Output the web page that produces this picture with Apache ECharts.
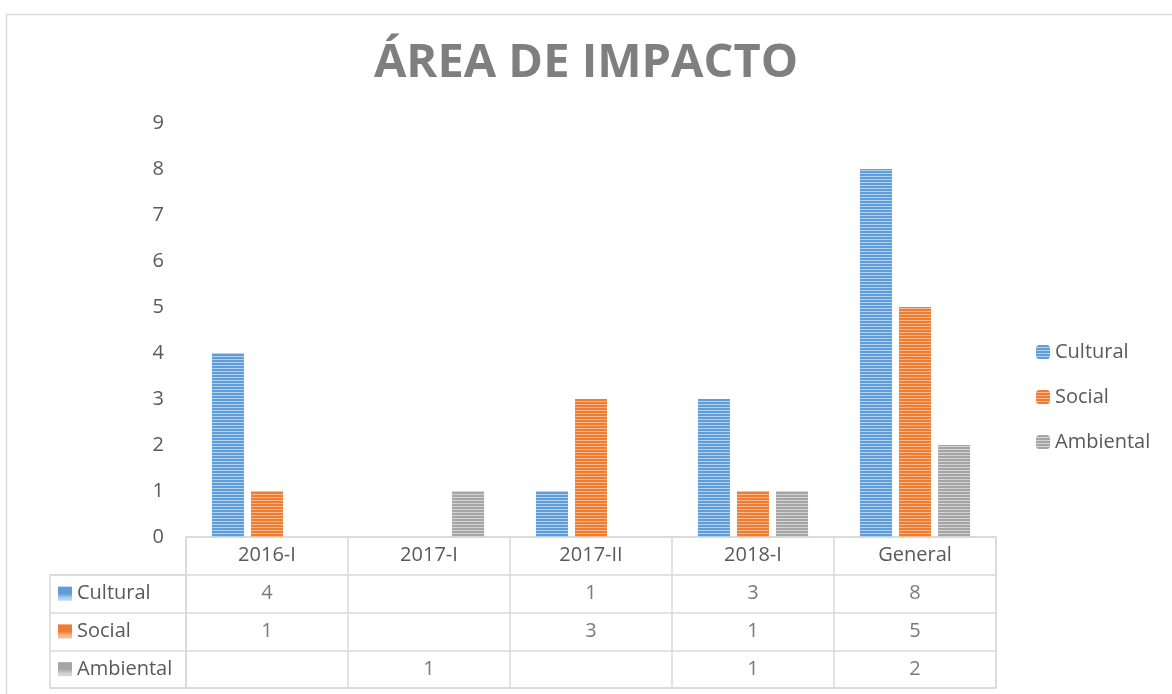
<!DOCTYPE html>
<html>
<head>
<meta charset="utf-8">
<script src="https://cdn.jsdelivr.net/npm/echarts@6/dist/echarts.min.js"></script>
<style>
  html, body { margin: 0; padding: 0; background: #ffffff; }
  #chart { width: 1172px; height: 694px; }
</style>
</head>
<body>
<div id="chart"></div>
<script>
const titleText = 'ÁREA DE IMPACTO';
const categories = ['2016-I', '2017-I', '2017-II', '2018-I', 'General'];
const seriesNames = ['Cultural', 'Social', 'Ambiental'];
const cultural = [4, null, 1, 3, 8];
const social = [1, null, 3, 1, 5];
const ambiental = [null, 1, null, 1, 2];
const yMin = 0, yMax = 9, yInterval = 1;

const valuesBySeries = [cultural, social, ambiental];
const palette = [
  { dark: '#5f9dd8', light: '#b5d1ee' },
  { dark: '#ed7d31', light: '#f6bb95' },
  { dark: '#a5a5a5', light: '#d4d4d4' }
];
const textColor = '#595959';
const lineColor = '#d9d9d9';
const FONT = '"Open Sans", "Liberation Sans", sans-serif';
const FS = 20;

function stripe(dark, light) {
  const c = document.createElement('canvas');
  c.width = 4; c.height = 3;
  const g = c.getContext('2d');
  g.fillStyle = dark; g.fillRect(0, 0, 4, 3);
  g.fillStyle = light; g.fillRect(0, 2, 4, 1);
  return c;
}
const patterns = palette.map(p => stripe(p.dark, p.light));

const chart = echarts.init(document.getElementById('chart'), null, { renderer: 'canvas' });

const tableRows = [''].concat(seriesNames);
const tableData = [];
valuesBySeries.forEach((arr, si) => {
  arr.forEach((v, ci) => {
    if (v !== null && v !== undefined) tableData.push([ci, seriesNames[si], v]);
  });
});

const rich = {};
seriesNames.forEach((n, i) => {
  rich['ic' + i] = { width: 14, height: 14, backgroundColor: { image: patterns[i] } };
});
rich.t = { fontSize: FS, color: textColor, fontFamily: FONT, padding: [0, 0, 0, 5] };

const barSeries = seriesNames.map((name, i) => ({
  name: name,
  type: 'bar',
  xAxisIndex: 0,
  yAxisIndex: 0,
  data: valuesBySeries[i],
  barWidth: 32,
  barGap: '22%',
  itemStyle: { color: { image: patterns[i], repeat: 'repeat' } }
}));

const option = {
  animation: false,
  backgroundColor: '#ffffff',
  textStyle: { fontFamily: FONT },
  title: {
    text: titleText,
    left: 'center',
    top: 35,
    textStyle: { fontSize: 47, fontWeight: 'bold', color: '#7f7f7f', fontFamily: FONT }
  },
  graphic: [{
    type: 'rect',
    left: 4, top: 12,
    shape: { width: 1200, height: 700 },
    style: { fill: 'none', stroke: lineColor, lineWidth: 1.5 },
    silent: true
  }],
  legend: {
    data: seriesNames,
    orient: 'vertical',
    left: 1036,
    top: 341,
    padding: 0,
    itemWidth: 14,
    itemHeight: 14,
    itemGap: 23,
    textStyle: { fontSize: FS, color: textColor, lineHeight: 22, fontFamily: FONT }
  },
  grid: [
    { left: 186, top: 123, width: 810, height: 414 },
    { left: 186, top: 537, width: 810, height: 151, show: true, borderColor: lineColor, borderWidth: 1.5 },
    { left: 50, top: 537 + 151 / 4, width: 136, height: 151 * 3 / 4, show: true, borderColor: lineColor, borderWidth: 1.5 }
  ],
  xAxis: [
    {
      gridIndex: 0, type: 'category', data: categories,
      axisLine: { show: false }, axisTick: { show: false },
      axisLabel: { fontSize: FS, color: textColor, margin: 8, fontFamily: FONT }
    },
    {
      gridIndex: 1, type: 'category', data: categories,
      axisLine: { show: false }, axisTick: { show: false }, axisLabel: { show: false },
      splitLine: { show: true, lineStyle: { color: lineColor, width: 1.5 } }
    },
    { gridIndex: 2, type: 'value', show: false }
  ],
  yAxis: [
    {
      gridIndex: 0, type: 'value', min: yMin, max: yMax, interval: yInterval,
      axisLine: { show: false }, axisTick: { show: false }, splitLine: { show: false },
      axisLabel: { fontSize: FS, color: textColor, margin: 22, fontFamily: FONT }
    },
    {
      gridIndex: 1, type: 'category', data: tableRows, inverse: true,
      axisLine: { show: false }, axisTick: { show: false }, axisLabel: { show: false },
      splitLine: { show: true, lineStyle: { color: lineColor, width: 1.5 } }
    },
    {
      gridIndex: 2, type: 'category', data: seriesNames, inverse: true,
      axisLine: { show: false }, axisTick: { show: false },
      splitLine: { show: true, lineStyle: { color: lineColor, width: 1.5 } },
      axisLabel: {
        inside: true, margin: 8, align: 'left',
        formatter: function (v) {
          const i = seriesNames.indexOf(v);
          return '{ic' + i + '|}{t|' + v + '}';
        },
        rich: rich
      }
    }
  ],
  series: barSeries.concat([{
    name: 'tabla',
    type: 'scatter',
    xAxisIndex: 1,
    yAxisIndex: 1,
    data: tableData,
    symbol: 'rect',
    symbolSize: 1,
    itemStyle: { color: 'rgba(0,0,0,0)' },
    label: {
      show: true, position: 'inside',
      formatter: p => String(p.value[2]),
      fontSize: FS, color: textColor, fontFamily: FONT
    },
    silent: true
  }])
};
chart.setOption(option);
</script>
</body>
</html>
